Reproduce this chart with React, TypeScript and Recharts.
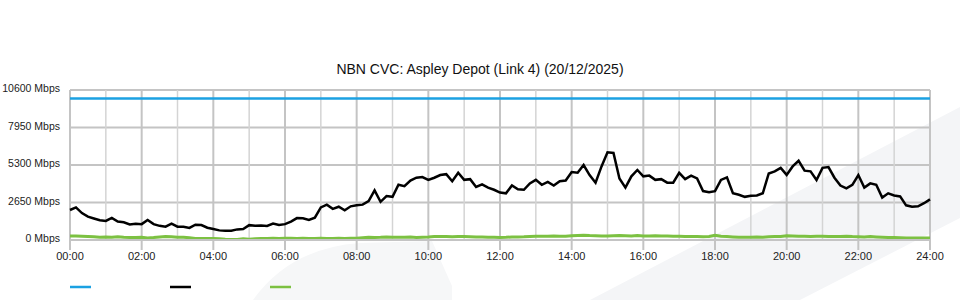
import React from "react";
import {
  LineChart,
  Line,
  XAxis,
  YAxis,
  CartesianGrid,
  ReferenceLine,
  Legend,
} from "recharts";

const TITLE = "NBN CVC: Aspley Depot (Link 4) (20/12/2025)";

// 10-minute samples, 00:00 -> 24:00 (145 points), Mbps
const TRAFFIC_IN = [
  2120, 2300, 1900, 1650, 1520, 1400, 1350, 1560, 1300, 1250, 1100, 1150,
  1120, 1410, 1120, 1000, 940, 1150, 940, 940, 850, 1080, 1060, 870,
  780, 680, 660, 660, 750, 780, 1050, 1000, 1030, 990, 1160, 1060,
  1120, 1300, 1550, 1540, 1420, 1580, 2300, 2500, 2200, 2350, 2100, 2380,
  2450, 2500, 2750, 3500, 2700, 3100, 3050, 3900, 3800, 4200, 4400, 4450,
  4250, 4400, 4590, 4650, 4150, 4750, 4250, 4300, 3750, 3930, 3700, 3550,
  3350, 3300, 3850, 3580, 3550, 4000, 4250, 3900, 4100, 3850, 4150, 4200,
  4800, 4750, 5300, 4590, 4050, 5200, 6200, 6150, 4350, 3700, 4500, 4950,
  4500, 4550, 4250, 4300, 4050, 4050, 4750, 4300, 4550, 4350, 3460, 3380,
  3450, 4250, 4430, 3300, 3200, 3050, 3120, 3150, 3300, 4700, 4850, 5100,
  4600, 5200, 5600, 4900, 4850, 4240, 5100, 5150, 4400, 3850, 3650, 3900,
  4590, 3700, 4000, 3900, 3000, 3300, 3150, 3080, 2450, 2350, 2380, 2600,
  2870,
];

const TRAFFIC_OUT = [
  280, 290, 270, 250, 230,
  200, 210, 190, 230, 200, 180, 170,
  200, 150, 180, 220, 240,
  230, 200, 190, 160, 110, 100, 100,
  100, 80, 50, 40, 40, 90, 60,
  90, 100, 110, 130, 110, 130, 120, 110,
  120, 110, 100, 120, 100, 110, 120, 110, 120,
  120, 160, 200, 180, 190, 210, 200, 190, 200, 210, 180, 200,
  210, 240, 250, 240, 230, 250, 240, 230, 220, 210, 200, 190,
  180, 190, 210, 220, 230, 250, 270, 260, 270, 280, 270, 260,
  300, 320, 330, 310, 300, 290, 280, 300, 310, 300, 290, 310, 290, 280, 300, 290, 280, 270,
  260, 250, 240, 250, 230, 250, 330, 260, 240, 220, 200, 190, 200, 210, 200, 230, 240, 250,
  300, 280, 260, 270, 250, 260, 270, 250, 240, 250, 260, 240,
  230, 220, 240, 220, 200, 180, 170, 160, 150, 140, 150, 140, 140,
];

const LINK_CAPACITY = 10000;
const Y_TICKS = [0, 2650, 5300, 7950, 10600];
const X_TICKS = [0, 2, 4, 6, 8, 10, 12, 14, 16, 18, 20, 22, 24];
const ODD_HOURS = [1, 3, 5, 7, 9, 11, 13, 15, 17, 19, 21, 23];

const COLORS = { capacity: "#1ba1e2", inbound: "#000000", outbound: "#7cc142" };
const LEGEND_COLORS = [COLORS.capacity, COLORS.inbound, COLORS.outbound];

const data = TRAFFIC_IN.map((v, i) => ({
  t: i / 6,
  inbound: v,
  outbound: TRAFFIC_OUT[i],
}));

const font = '"Liberation Sans", Arial, Helvetica, sans-serif';

function hourLabel(h: number) {
  return `${String(h).padStart(2, "0")}:00`;
}

function YTick(props: any) {
  const { x, y, payload } = props;
  return (
    <text x={x} y={y} dy={2} textAnchor="end" fill="#222" fontSize={10.5} fontFamily={font}>
      {`${payload.value} Mbps`}
    </text>
  );
}

function LegendLines() {
  return (
    <svg width={960} height={12}>
      {LEGEND_COLORS.map((c, i) => (
        <line key={c} x1={70 + i * 100} x2={91 + i * 100} y1={6} y2={6} stroke={c} strokeWidth={2.5} />
      ))}
    </svg>
  );
}

export default function App() {
  return (
    <div style={{ position: "absolute", left: 0, top: 0, width: 960, height: 300, background: "#fff", fontFamily: font }}>
      <svg width={960} height={300} style={{ position: "absolute", left: 0, top: 0 }}>
        <path d="M590,300 L960,107 L960,218 L800,300 Z" fill="#f4f5f7" />
        <path d="M253,300 Q290,248 360,243 L432,241 L452,286 L452,300 Z" fill="#f6f7f8" />
      </svg>
      <div
        style={{
          position: "absolute",
          top: 61,
          left: 0,
          width: 960,
          textAlign: "center",
          fontSize: 14,
          color: "#111",
        }}
      >
        {TITLE}
      </div>
      <div style={{ position: "absolute", left: 0, top: 0 }}>
        <LineChart width={960} height={300} data={data} margin={{ top: 90, right: 30, bottom: 10, left: 0 }}>
          <CartesianGrid stroke="#c4c4c4" strokeWidth={2} />
          <XAxis
            dataKey="t"
            type="number"
            domain={[0, 24]}
            ticks={X_TICKS}
            tickFormatter={hourLabel}
            height={30}
            tickSize={10}
            tickMargin={2}
            stroke="#c4c4c4"
            strokeWidth={2}
            tick={{ fill: "#222", fontSize: 11, fontFamily: font }}
            interval={0}
          />
          <YAxis
            domain={[0, 10600]}
            ticks={Y_TICKS}
            width={70}
            tickSize={0}
            tickMargin={10}
            axisLine={false}
            tick={<YTick />}
            interval={0}
          />
          {ODD_HOURS.map((h) => (
            <ReferenceLine key={h} x={h} stroke="#d4d4d4" strokeWidth={1.5} />
          ))}
          <ReferenceLine y={LINK_CAPACITY} stroke={COLORS.capacity} strokeWidth={2.5} />
          <Line
            dataKey="outbound"
            stroke={COLORS.outbound}
            strokeWidth={3}
            dot={false}
            isAnimationActive={false}
          />
          <Line
            dataKey="inbound"
            stroke={COLORS.inbound}
            strokeWidth={2.5}
            dot={false}
            isAnimationActive={false}
          />
          <Legend
            height={20}
            content={<LegendLines />}
            wrapperStyle={{ top: 279, left: 0, width: 960 }}
          />
        </LineChart>
      </div>
    </div>
  );
}
